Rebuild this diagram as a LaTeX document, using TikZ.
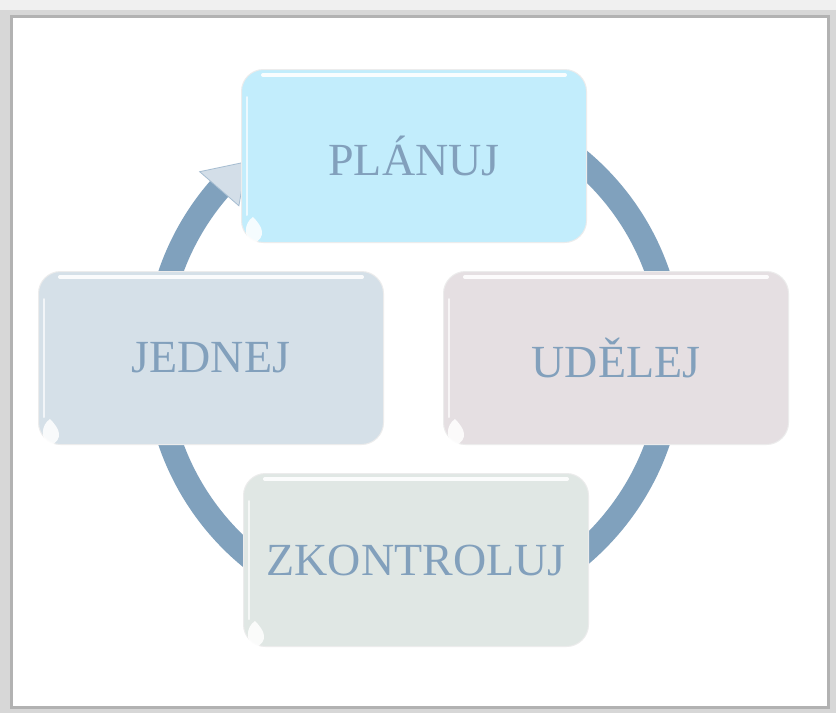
\documentclass[tikz,border=0pt]{standalone}
\usepackage{fontspec}
\setmainfont{Liberation Serif}
\usetikzlibrary{calc}
\definecolor{arcC}{RGB}{128,161,189}
\definecolor{txtC}{RGB}{130,160,188}
\definecolor{planC}{RGB}{194,237,252}
\definecolor{actC}{RGB}{213,224,232}
\definecolor{doC}{RGB}{229,223,226}
\definecolor{checkC}{RGB}{224,231,228}
\definecolor{frameC}{RGB}{178,178,178}
\definecolor{shadeC}{RGB}{215,215,215}
\tikzset{
  cycbox/.style={rounded corners=22pt, minimum width=345pt, minimum height=173pt,
    draw=white!85!gray, line width=1pt, text=txtC, font=\fontsize{46}{50}\selectfont, inner sep=0pt},
  cycarc/.style={draw=arcC, line width=24pt},
  gloss/.style={white, line width=4pt, line cap=round, opacity=0.9}
}
\begin{document}
\begin{tikzpicture}[x=1pt,y=1pt]
\useasboundingbox (0,0) rectangle (836,-713);
\fill[shadeC] (0,0) rectangle (836,-713);
\fill[white!88!gray] (0,0) rectangle (836,-10);
\fill[white,draw=frameC,line width=3pt] (11,-16) rectangle (828,-707);
\coordinate (C) at (414,-358);
% cycle arc
\draw[cycarc] (C) ++(52:258) arc[start angle=52, end angle=-224, radius=258];
\draw[white, line width=1pt, opacity=0.8] (C) ++(48:244) arc[start angle=48, end angle=12, radius=244];
\draw[white, line width=1pt, opacity=0.8] (C) ++(-130:244) arc[start angle=-130, end angle=-150, radius=244];
\fill[arcC!35, draw=arcC!70, line width=0.8pt]
  ($(C)+(139:284)$) -- ($(C)+(130.5:258)$) -- ($(C)+(139:232)$) -- cycle;
% boxes
\node[cycbox, fill=planC]  (plan)  at (414,-156) {PLÁNUJ};
\node[cycbox, fill=doC]    (do)    at (616,-358) {UDĚLEJ};
\node[cycbox, fill=checkC] (check) at (416,-560) {ZKONTROLUJ};
\node[cycbox, fill=actC]   (act)   at (211,-358) {JEDNEJ};
% glossy highlights
\foreach \b in {plan,do,check,act}{
  \draw[gloss] ($(\b.north west)+(22,-6)$) -- ($(\b.north east)+(-22,-6)$);
  \draw[white, line width=2pt, opacity=0.7, line cap=round] ($(\b.north west)+(6,-28)$) -- ($(\b.south west)+(6,28)$);
  \fill[white, opacity=0.85] ($(\b.south west)+(12,-1)$) .. controls ($(\b.south west)+(2,6)$) and ($(\b.south west)+(3,20)$) .. ($(\b.south west)+(12,26)$) .. controls ($(\b.south west)+(22,16)$) and ($(\b.south west)+(26,6)$) .. cycle;
}
\end{tikzpicture}
\end{document}
